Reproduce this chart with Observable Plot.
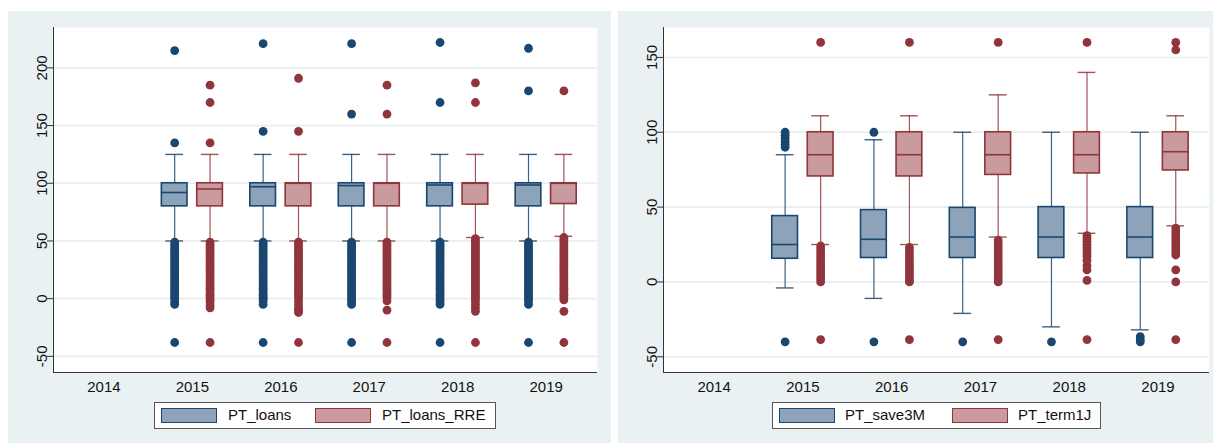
<!DOCTYPE html>
<html><head><meta charset="utf-8">
<script src="https://cdn.jsdelivr.net/npm/d3@7"></script>
<script src="https://cdn.jsdelivr.net/npm/@observablehq/plot@0.6"></script>
<style>
body{margin:0;background:#fff;width:1213px;height:443px;overflow:hidden;font-family:"Liberation Sans",Arial,sans-serif;}
.panel{position:absolute;top:11px;height:432px;background:#eaf1f3;}
.panel svg{position:absolute;left:0;top:0;}
.legend{position:absolute;top:391px;height:27px;background:#fff;border:1px solid #555;box-sizing:border-box;}
.sw{position:absolute;top:5px;width:56px;height:15px;box-sizing:border-box;border:1.5px solid;}
.lt{position:absolute;top:3px;font-size:15px;color:#111;white-space:nowrap;line-height:18px;}
</style></head>
<body>
<div id="p1" class="panel" style="left:8px;width:603px"></div>
<div id="p2" class="panel" style="left:618px;width:595px"></div>
<script>
// ---- data ----
const years = [2015, 2016, 2017, 2018, 2019];
const xTicks = [2014, 2015, 2016, 2017, 2018, 2019];

// Left panel: PT_loans
const loansLo  = [50, 50, 50, 50, 50];
const loansQ1  = [80, 80, 80, 80, 80];
const loansMed = [92, 97, 98, 98.5, 98.5];
const loansQ3  = [100, 100, 100, 100, 100];
const loansHi  = [125, 125, 125, 125, 125];
const loansOut = [
  [215, 135, 49, 47, 45, 43, 41, 39, 37, 35, 33, 31, 29, 27, 25, 23, 21, 19, 17, 15, 13, 11, 9, 7, 5, 3, 1, 0, -3, -5, -38],
  [221, 145, 49, 47, 45, 43, 41, 39, 37, 35, 33, 31, 29, 27, 25, 23, 21, 19, 17, 15, 13, 11, 9, 7, 5, 3, 1, 0, -2, -5, -38],
  [221, 160, 49, 47, 45, 43, 41, 39, 37, 35, 33, 31, 29, 27, 25, 23, 21, 19, 17, 15, 13, 11, 9, 7, 5, 3, 1, -1, -3, -5, -38],
  [222, 170, 49, 47, 45, 43, 41, 39, 37, 35, 33, 31, 29, 27, 25, 23, 21, 19, 17, 15, 13, 11, 9, 7, 5, 3, 1, -1, -3, -5, -38],
  [217, 180, 49, 47, 45, 43, 41, 39, 37, 35, 33, 31, 29, 27, 25, 23, 21, 19, 17, 15, 13, 11, 9, 7, 5, 3, 1, 0, -2, -5, -38]
];
// Left panel: PT_loans_RRE
const rreLo  = [50, 50, 50, 53, 54];
const rreQ1  = [80, 80, 80, 81.5, 82];
const rreMed = [95, 100, 100, 100, 100];
const rreQ3  = [100, 100, 100, 100, 100];
const rreHi  = [125, 125, 125, 125, 125];
const rreOut = [
  [185, 170, 135, 49, 47, 45, 43, 41, 39, 37, 35, 33, 31, 29, 27, 25, 23, 21, 19, 17, 15, 13, 11, 9, 7, 5, 3, 1, -1, -3, -6, -8, -38],
  [191, 145, 49, 47, 45, 43, 41, 39, 37, 35, 33, 31, 29, 27, 25, 23, 21, 19, 17, 15, 13, 11, 9, 7, 5, 3, 1, -2, -5, -8, -10, -12, -38],
  [185, 160, 49, 47, 45, 43, 41, 39, 37, 35, 33, 31, 29, 27, 25, 23, 21, 19, 17, 15, 13, 11, 9, 7, 5, 3, 1, -2, -10, -38],
  [187, 170, 52, 50, 48, 46, 44, 42, 40, 38, 36, 34, 32, 30, 28, 26, 24, 22, 20, 18, 16, 14, 12, 10, 8, 6, 4, 2, 0, -2, -5, -8, -11, -38],
  [180, 53, 51, 49, 47, 45, 43, 41, 39, 37, 35, 33, 31, 29, 27, 25, 23, 21, 19, 17, 15, 13, 11, 9, 7, 5, 3, 1, -1, -11, -38]
];

// Right panel: PT_save3M
const saveLo  = [-4, -11, -21, -30, -32];
const saveQ1  = [15.5, 16, 16, 16, 16];
const saveMed = [25, 28.5, 30, 30, 30];
const saveQ3  = [44, 48, 49.5, 50, 50];
const saveHi  = [85, 95, 100, 100, 100];
const saveOut = [
  [100, 98, 96, 94, 92, 90, -40],
  [100, -40],
  [-40],
  [-40],
  [-36.5, -38.5, -40]
];
// Right panel: PT_term1J
const termLo  = [25, 25, 30, 32.5, 37.5];
const termQ1  = [70.5, 70.5, 71.5, 72.5, 74.5];
const termMed = [85, 85, 85, 85, 87];
const termQ3  = [100, 100, 100, 100, 100];
const termHi  = [111, 111, 125, 140, 111];
const termOut = [
  [160, 24, 22, 20, 18, 16, 14, 12, 10, 8, 6, 4, 2, 0, -38.5],
  [160, 23, 21, 19, 17, 15, 13, 11, 9, 7, 5, 3, 1, 0, -38.5],
  [160, 28, 26, 24, 22, 20, 18, 16, 14, 12, 10, 8, 6, 4, 2, 0, -38.5],
  [160, 31, 29, 27, 25, 23, 21, 19, 17, 14.5, 11, 8, 1, -38.5],
  [160, 155, 36, 34, 32, 30, 28, 26, 24, 22, 20, 18, 8, 0, -38.5]
];

const leftTicks = [-50, 0, 50, 100, 150, 200];
const rightTicks = [-50, 0, 50, 100, 150];
const leftNames = ["PT_loans", "PT_loans_RRE"];
const rightNames = ["PT_save3M", "PT_term1J"];

// ---- styles ----
const navy = "#1a476f", navyFill = "#8ca3b9";
const maroon = "#90353b", maroonFill = "#c99a9e";
const gridColor = "#e6eef1";
const OFF = 0.2, HW = 0.145, CAP = 0.1;
const xDomain = [2013.43, 2019.58];

function series(lo, q1, med, q3, hi, out, off, stroke, fill) {
  const boxes = years.map((y, i) => ({year: y, x: y + off, lo: lo[i], q1: q1[i], med: med[i], q3: q3[i], hi: hi[i], stroke, fill}));
  const dots = years.flatMap((y, i) => out[i].map(v => ({x: y + off, v, stroke})));
  return {boxes, dots};
}

function panel(el, yDomain, yTicks, sA, sB, marginRight) {
  const boxes = sA.boxes.concat(sB.boxes);
  const dots = sA.dots.concat(sB.dots);
  const w = el.clientWidth;
  const chart = Plot.plot({
    width: w, height: 400,
    marginLeft: 45, marginRight, marginTop: 16, marginBottom: 39,
    style: {background: "transparent", fontFamily: "Liberation Sans, Arial, sans-serif", fontSize: "15px", color: "#111"},
    x: {domain: xDomain, label: null},
    y: {domain: yDomain, label: null},
    marks: [
      Plot.frame({fill: "white", stroke: "none"}),
      Plot.gridY(yTicks, {stroke: gridColor, strokeOpacity: 1, strokeWidth: 1.6}),
      Plot.ruleX(boxes, {x: "x", y1: "q3", y2: "hi", stroke: "stroke", strokeWidth: 1.2, strokeOpacity: 0.85}),
      Plot.ruleX(boxes, {x: "x", y1: "lo", y2: "q1", stroke: "stroke", strokeWidth: 1.2, strokeOpacity: 0.85}),
      Plot.ruleY(boxes, {y: "hi", x1: d => d.x - CAP, x2: d => d.x + CAP, stroke: "stroke", strokeWidth: 1.4, strokeOpacity: 0.85}),
      Plot.ruleY(boxes, {y: "lo", x1: d => d.x - CAP, x2: d => d.x + CAP, stroke: "stroke", strokeWidth: 1.4, strokeOpacity: 0.85}),
      Plot.rect(boxes, {x1: d => d.x - HW, x2: d => d.x + HW, y1: "q1", y2: "q3", fill: "fill", stroke: "stroke", strokeWidth: 1.6}),
      Plot.ruleY(boxes, {y: "med", x1: d => d.x - HW, x2: d => d.x + HW, stroke: "stroke", strokeWidth: 1.6}),
      Plot.dot(dots, {x: "x", y: "v", r: 4.4, fill: "stroke", stroke: "none"}),
      Plot.ruleX([xDomain[0]], {stroke: "#333", strokeWidth: 1}),
      Plot.ruleY([yDomain[0]], {stroke: "#333", strokeWidth: 1}),
      Plot.axisY(yTicks, {tickSize: 6, tickFormat: () => "", stroke: "#333", label: null}),
      Plot.text(yTicks, {x: xDomain[0], y: d => d, text: d => String(d), rotate: -90, textAnchor: "middle", lineAnchor: "bottom", dx: -7, fontSize: 15, fill: "#111"}),
      Plot.axisX(xTicks, {tickSize: 0, tickPadding: 9, fontSize: 15, tickFormat: d => String(d), label: null, fill: "#111"})
    ]
  });
  el.appendChild(chart);
  return chart;
}

function legend(el, left, width, names, swLefts, textLefts) {
  const lg = document.createElement("div");
  lg.className = "legend";
  lg.style.left = left + "px";
  lg.style.width = width + "px";
  const cols = [[navy, navyFill], [maroon, maroonFill]];
  names.forEach((n, i) => {
    const sw = document.createElement("div");
    sw.className = "sw";
    sw.style.left = swLefts[i] + "px";
    sw.style.borderColor = cols[i][0];
    sw.style.background = cols[i][1];
    lg.appendChild(sw);
    const t = document.createElement("div");
    t.className = "lt";
    t.style.left = textLefts[i] + "px";
    t.textContent = n;
    lg.appendChild(t);
  });
  el.appendChild(lg);
}

const p1 = document.getElementById("p1");
const p2 = document.getElementById("p2");
panel(p1, [-64, 235], leftTicks,
  series(loansLo, loansQ1, loansMed, loansQ3, loansHi, loansOut, -OFF, navy, navyFill),
  series(rreLo, rreQ1, rreMed, rreQ3, rreHi, rreOut, OFF, maroon, maroonFill), 14);
panel(p2, [-60.5, 170], rightTicks,
  series(saveLo, saveQ1, saveMed, saveQ3, saveHi, saveOut, -OFF, navy, navyFill),
  series(termLo, termQ1, termMed, termQ3, termHi, termOut, OFF, maroon, maroonFill), 4);
legend(p1, 146, 342, leftNames, [6, 160], [73, 227]);
legend(p2, 154, 329, rightNames, [6, 179], [72, 245]);
</script>
</body></html>
